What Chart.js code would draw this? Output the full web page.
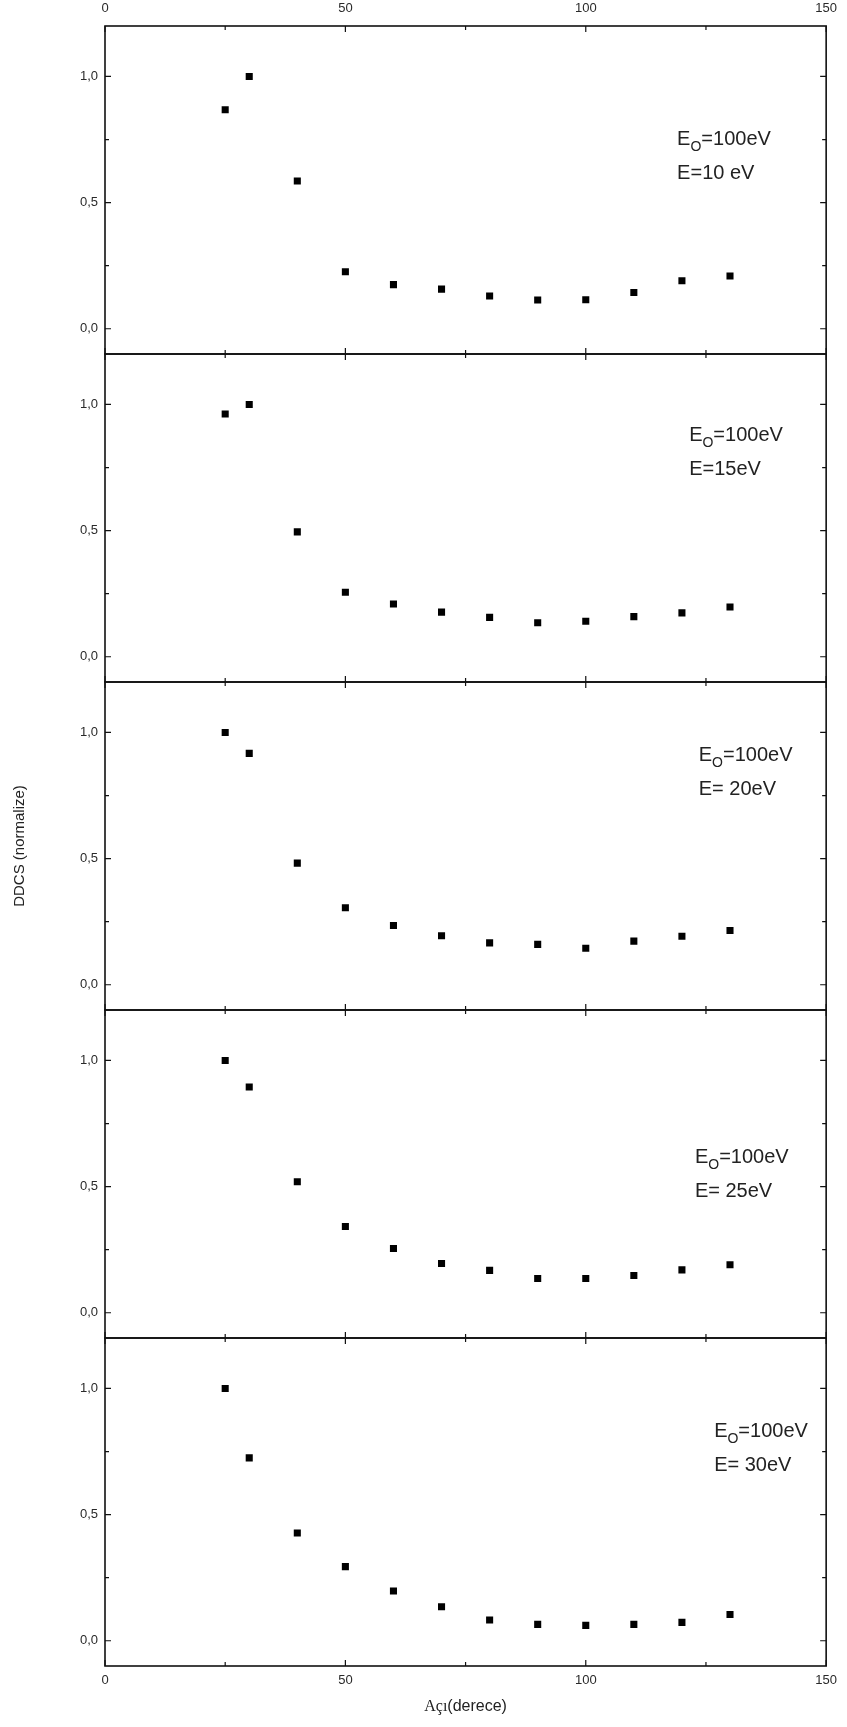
<!DOCTYPE html>
<html lang="tr">
<head>
<meta charset="UTF-8">
<title>DDCS (normalize)</title>
<script src="https://cdn.jsdelivr.net/npm/chart.js"></script>
<style>
  body { margin: 0; background: #fff; }
  #wrap { width: 847px; height: 1727px; }
</style>
</head>
<body>
<div id="wrap"><canvas id="ddcsChart" width="847" height="1727"></canvas></div>
<script>
// acilar (derece)
const angles = [25, 30, 40, 50, 60, 70, 80, 90, 100, 110, 120, 130];

// normalize DDCS, E0 = 100 eV
const ddcsE10 = [0.868, 1.0, 0.586, 0.226, 0.175, 0.157, 0.130, 0.114, 0.115, 0.144, 0.190, 0.209];
const ddcsE15 = [0.962, 1.0, 0.495, 0.256, 0.209, 0.177, 0.156, 0.135, 0.141, 0.159, 0.174, 0.197];
const ddcsE20 = [1.0, 0.917, 0.482, 0.305, 0.235, 0.194, 0.166, 0.160, 0.145, 0.173, 0.192, 0.215];
const ddcsE25 = [1.0, 0.895, 0.519, 0.342, 0.255, 0.195, 0.168, 0.136, 0.136, 0.148, 0.170, 0.190];
const ddcsE30 = [1.0, 0.725, 0.427, 0.294, 0.197, 0.135, 0.082, 0.065, 0.061, 0.065, 0.073, 0.104];

const panelTexts = ['E=10 eV', 'E=15eV', 'E= 20eV', 'E= 25eV', 'E= 30eV'];
const primaryText = '=100eV';

const xTicks = [0, 50, 100, 150];
const xMinorTicks = [25, 75, 125];
const yTicks = [0, 0.5, 1.0];
const yMinorTicks = [0.25, 0.75];

// where the E0 / E labels sit in each panel (angle, ddcs of first baseline)
const notePos = [[119.0, 0.729], [121.5, 0.855], [123.5, 0.886], [122.7, 0.593], [126.7, 0.808]];

const series = [ddcsE10, ddcsE15, ddcsE20, ddcsE25, ddcsE30];
const panelIds = ['y0', 'y1', 'y2', 'y3', 'y4'];
const FONT = "'Liberation Sans', Arial, sans-serif";

const datasets = series.map((vals, i) => ({
    label: panelTexts[i],
    data: angles.map((a, k) => ({ x: a, y: vals[k] })),
    yAxisID: panelIds[i],
    showLine: false,
    pointStyle: 'rect',
    pointRadius: 5,
    pointBorderWidth: 0,
    pointBackgroundColor: '#000',
    borderColor: '#000'
}));

const xAxis = (pos, pad, h) => ({
    type: 'linear',
    position: pos,
    min: 0,
    max: 150,
    afterBuildTicks: s => { s.ticks = xTicks.map(v => ({ value: v })); },
    afterFit: s => { s.height = h; },
    grid: { display: false, drawTicks: false },
    border: { display: false },
    ticks: { padding: pad, color: '#2a2a2a', font: { family: FONT, size: 13 } }
});

const scales = { x: xAxis('bottom', 7, 61), xTop: xAxis('top', 10, 26) };
panelIds.forEach((id, i) => {
    scales[id] = {
        type: 'linear',
        position: 'left',
        stack: 'panels',
        stackWeight: 1,
        weight: 5 - i,
        min: -0.1,
        max: 1.2,
        afterBuildTicks: s => { s.ticks = yTicks.map(v => ({ value: v })); },
        afterFit: s => { s.width = 105; },
        grid: { display: false, drawTicks: false },
        border: { display: false },
        ticks: {
            padding: 7,
            color: '#2a2a2a',
            font: { family: FONT, size: 13 },
            callback: v => v.toFixed(1).replace('.', ',')
        }
    };
});

// frames, inward ticks, panel labels and axis titles
const framePlugin = {
    id: 'frames',
    afterDraw(chart) {
        const ctx = chart.ctx;
        const area = chart.chartArea;
        const xs = chart.scales.x;
        ctx.save();
        ctx.strokeStyle = '#111';
        ctx.fillStyle = '#111';

        panelIds.forEach((id, i) => {
            const ys = chart.scales[id];
            const top = ys.top, bottom = ys.bottom;
            ctx.lineWidth = 1.6;
            ctx.strokeRect(area.left, top, area.right - area.left, bottom - top);

            ctx.lineWidth = 1.2;
            ctx.beginPath();
            const yMarks = yTicks.map(v => [v, 6]).concat(yMinorTicks.map(v => [v, 4]));
            yMarks.forEach(([v, len]) => {
                const py = ys.getPixelForValue(v);
                ctx.moveTo(area.left, py); ctx.lineTo(area.left + len, py);
                ctx.moveTo(area.right, py); ctx.lineTo(area.right - len, py);
            });
            const xMarks = xTicks.map(v => [v, 6]).concat(xMinorTicks.map(v => [v, 4]));
            xMarks.forEach(([v, len]) => {
                const px = xs.getPixelForValue(v);
                ctx.moveTo(px, top); ctx.lineTo(px, top + len);
                ctx.moveTo(px, bottom); ctx.lineTo(px, bottom - len);
            });
            ctx.stroke();

            // E0 / E label
            const nx = xs.getPixelForValue(notePos[i][0]);
            const ny = ys.getPixelForValue(notePos[i][1]);
            ctx.fillStyle = '#222';
            ctx.textBaseline = 'alphabetic';
            ctx.textAlign = 'left';
            ctx.font = '20px ' + FONT;
            ctx.fillText('E', nx, ny);
            let w = ctx.measureText('E').width;
            ctx.font = '14px ' + FONT;
            ctx.fillText('O', nx + w, ny + 6);
            w += ctx.measureText('O').width;
            ctx.font = '20px ' + FONT;
            ctx.fillText(primaryText, nx + w, ny);
            ctx.fillText(panelTexts[i], nx, ny + 34);
        });

        // y title
        ctx.save();
        ctx.translate(20, (area.top + area.bottom) / 2);
        ctx.rotate(-Math.PI / 2);
        ctx.font = '15px ' + FONT;
        ctx.textAlign = 'center';
        ctx.textBaseline = 'middle';
        ctx.fillStyle = '#222';
        ctx.fillText('DDCS (normalize)', 0, 0);
        ctx.restore();

        // x title: "Açı" serif + "(derece)" sans
        const serif = "16px 'Liberation Serif', 'Times New Roman', serif";
        const sans = '16px ' + FONT;
        ctx.font = serif;
        const w1 = ctx.measureText('Açı').width;
        ctx.font = sans;
        const w2 = ctx.measureText('(derece)').width;
        const cx = (area.left + area.right) / 2 - (w1 + w2) / 2;
        ctx.textAlign = 'left';
        ctx.textBaseline = 'middle';
        ctx.fillStyle = '#222';
        ctx.font = serif;
        ctx.fillText('Açı', cx, 1707);
        ctx.font = sans;
        ctx.fillText('(derece)', cx + w1, 1707);
        ctx.restore();
    }
};

new Chart(document.getElementById('ddcsChart'), {
    type: 'scatter',
    data: { datasets: datasets },
    options: {
        responsive: false,
        devicePixelRatio: 1,
        animation: false,
        layout: { padding: { left: 0, right: 14, top: 0, bottom: 0 } },
        plugins: { legend: { display: false }, tooltip: { enabled: false } },
        scales: scales
    },
    plugins: [framePlugin]
});
</script>
</body>
</html>
